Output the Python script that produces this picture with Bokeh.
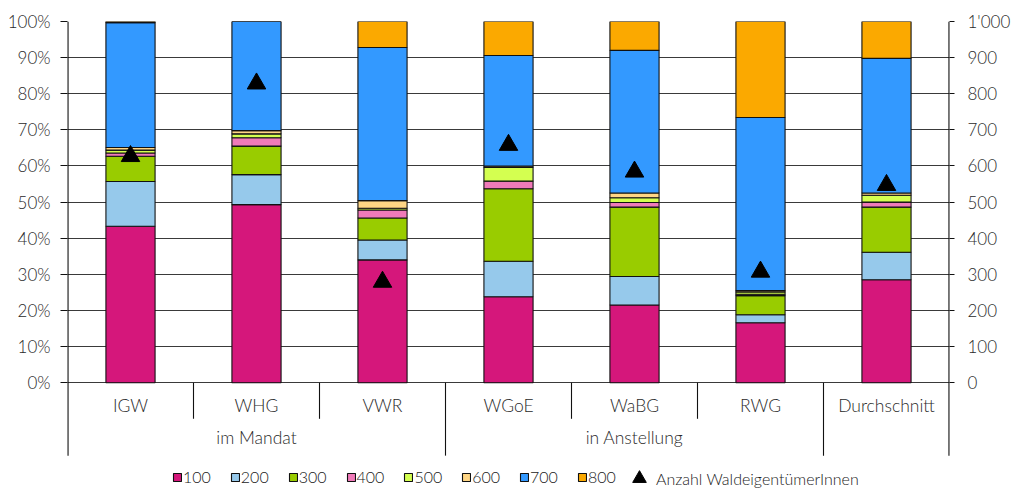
from bokeh.plotting import figure
from bokeh.models import (Range1d, LinearAxis, FixedTicker, Legend,
                          LegendItem, ColumnDataSource, PrintfTickFormatter)
from bokeh.embed import file_html
from bokeh.resources import INLINE
from bokeh.core.properties import value

# ---------------- data ----------------
categories = ["IGW", "WHG", "VWR", "WGoE", "WaBG", "RWG", "Durchschnitt"]
groups = ["im Mandat", "in Anstellung", ""]
group_sizes = [3, 3, 1]
classes = ["100", "200", "300", "400", "500", "600", "700", "800"]

s100 = [43.3, 49.3, 34.0, 23.8, 21.5, 16.6, 28.5]
s200 = [12.4, 8.3, 5.5, 9.8, 7.9, 2.2, 7.6]
s300 = [7.0, 7.9, 6.1, 20.1, 19.2, 5.3, 12.5]
s400 = [0.9, 2.3, 2.2, 2.1, 1.3, 0.4, 1.4]
s500 = [0.8, 1.1, 0.5, 3.8, 1.3, 0.6, 1.9]
s600 = [0.7, 0.9, 2.1, 0.4, 1.3, 0.4, 0.6]
s700 = [34.6, 30.2, 42.4, 30.6, 39.5, 47.9, 37.3]
s800 = [0.3, 0.0, 7.2, 9.4, 8.0, 26.6, 10.2]

anzahl = [627, 828, 279, 658, 584, 307, 547]

pct_ticks = [0, 10, 20, 30, 40, 50, 60, 70, 80, 90, 100]
count_ticks = [0, 100, 200, 300, 400, 500, 600, 700, 800, 900, 1000]
count_labels = ["0", "100", "200", "300", "400", "500", "600", "700", "800", "900", "1'000"]

colors = ["#D5177B", "#96C9EB", "#99CC00", "#F07AB9", "#D4FF50",
          "#FFD685", "#3399FF", "#FBA900"]

# ---------------- figure ----------------
FONT = "'Lato Light', Lato"
TXT = "#2a2a2a"
LINE = "#111111"
Y_MIN = -29.3      # frame reaches down into the legend row
Y_TABLE = -20.2    # bottom of the category table
pos = [i + 0.5 for i in range(len(categories))]   # category slot centres
n_cat = len(categories)

p = figure(width=1013, height=488, output_backend="svg", toolbar_location=None,
           x_range=Range1d(0, n_cat),
           y_range=Range1d(Y_MIN, 100),
           x_axis_location=None, y_axis_location=None,
           min_border_left=67, min_border_right=63,
           min_border_top=21, min_border_bottom=0)
p.outline_line_color = None
p.xgrid.visible = False
p.extra_y_ranges = {"right": Range1d(Y_MIN * 10, 1000)}

# axes (lines drawn separately so they stop at the table bottom)
left = LinearAxis(ticker=FixedTicker(ticks=pct_ticks),
                  formatter=PrintfTickFormatter(format="%d%%"))
right = LinearAxis(y_range_name="right", ticker=FixedTicker(ticks=count_ticks))
right.major_label_overrides = {t: l for t, l in zip(count_ticks, count_labels)}
for ax, out, stand in ((left, 7, 10), (right, 5, 13)):
    ax.major_tick_out = out
    ax.major_tick_in = 0
    ax.minor_tick_out = 0
    ax.minor_tick_in = 0
    ax.axis_line_color = None
    ax.major_tick_line_color = LINE
    ax.major_label_standoff = stand
    ax.major_label_text_font = FONT
    ax.major_label_text_font_size = "17px"
    ax.major_label_text_color = TXT
p.add_layout(left, "left")
p.add_layout(right, "right")

p.ygrid.ticker = FixedTicker(ticks=pct_ticks)
p.ygrid.grid_line_color = "#3a3a3a"
p.ygrid.grid_line_width = 1.2

# stacked bars
src = ColumnDataSource(dict(cat=categories, pos=pos, **{
    "100": s100, "200": s200, "300": s300, "400": s400,
    "500": s500, "600": s600, "700": s700, "800": s800}))
bars = p.vbar_stack(classes, x="pos", width=0.39, color=colors,
                    line_color=LINE, line_width=1.1, source=src)

# triangles (secondary axis)
tri = p.scatter(x=pos, y=anzahl, y_range_name="right", marker="triangle",
                size=18.5, fill_color="black", line_color="black")

# category table below the plot
p.text(x=pos, y=[-6.4] * n_cat, text=categories,
       text_align="center", text_baseline="middle", text_font=value(FONT),
       text_font_size="17.5px", text_color=TXT)

g_x, g_lab, long_b, short_b = [], [], [], []
start = 0
for g, n in zip(groups, group_sizes):
    if g:
        g_x.append(start + n / 2)
        g_lab.append(g)
    for k in range(1, n):
        short_b.append(start + k)
    start += n
    if start < n_cat:
        long_b.append(start)

p.text(x=g_x, y=[-15.2] * len(g_x), text=g_lab, text_align="center",
       text_baseline="middle", text_font=value(FONT), text_font_size="17.5px",
       text_color=TXT)

p.segment(x0=short_b, x1=short_b, y0=[0] * len(short_b), y1=[-10] * len(short_b),
          line_color=LINE, line_width=1.1)
p.segment(x0=long_b, x1=long_b, y0=[0] * len(long_b), y1=[Y_TABLE] * len(long_b),
          line_color=LINE, line_width=1.1)
# left and right axis lines (on the frame edges, hence doubled width)
p.segment(x0=[0, n_cat], x1=[0, n_cat], y0=[Y_TABLE, Y_TABLE], y1=[100, 100],
          line_color=LINE, line_width=2.2)

# legends
leg1 = Legend(items=[LegendItem(label=c, renderers=[r]) for c, r in zip(classes, bars)],
              orientation="horizontal", location=(105, 2))
leg1.glyph_width = 10
leg1.glyph_height = 10
leg1.label_standoff = 1
leg1.label_width = 0
leg1.label_height = 16
leg1.spacing = 19
leg2 = Legend(items=[LegendItem(label="Anzahl WaldeigentümerInnen", renderers=[tri])],
              orientation="horizontal", location=(555, -7))
leg2.glyph_width = 34
leg2.glyph_height = 34
leg2.label_standoff = -11
leg2.label_height = 16
for lg in (leg1, leg2):
    lg.padding = 0
    lg.margin = 0
    lg.border_line_color = None
    lg.background_fill_alpha = 0
    lg.label_text_font = FONT
    lg.label_text_font_size = "16px"
    lg.label_text_color = "#1a1a1a"
    lg.click_policy = "none"
    p.add_layout(lg, "center")

open("out.html", "w").write(file_html(p, INLINE))
